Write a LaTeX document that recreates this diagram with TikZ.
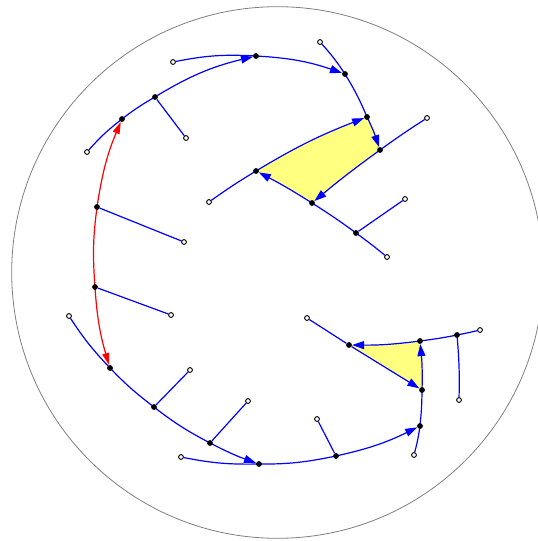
\documentclass[tikz,border=0pt]{standalone}
\usepackage{tikz}
\usetikzlibrary{arrows.meta,backgrounds}
\definecolor{geoblue}{HTML}{0000FF}
\definecolor{geored}{HTML}{FF0000}
\definecolor{faceyellow}{HTML}{FFFF80}
\definecolor{diskgray}{HTML}{808080}
\tikzset{
  vertex/.style={circle, fill=black, inner sep=0pt, minimum size=5.8pt},
  leaf/.style={circle, draw=black, fill=white, line width=0.9pt, inner sep=0pt, minimum size=4.8pt},
  edge/.style={line width=1.2pt, draw=geoblue},
  arr/.style={edge, -{Triangle[length=12pt,width=8pt]}},
  redarr/.style={line width=1.2pt, draw=geored,
    {Triangle[length=12pt,width=7pt]}-{Triangle[length=12pt,width=7pt]}},
  face/.style={fill=faceyellow},
  disk/.style={draw=diskgray, line width=0.8pt}
}

\begin{document}
\begin{tikzpicture}[x=1pt, y=-1pt]
    \useasboundingbox (0,0) rectangle (538,541);
    % vertices
    \node[vertex] (v1) at (122,119) {};
    \node[vertex] (v2) at (155,97) {};
    \node[vertex] (v3) at (256,56) {};
    \node[vertex] (v4) at (345,74) {};
    \node[vertex] (v5) at (367,117) {};
    \node[vertex] (v6) at (380,150) {};
    \node[vertex] (v7) at (312,203) {};
    \node[vertex] (v8) at (256,171) {};
    \node[vertex] (v9) at (356,233) {};
    \node[vertex] (v10) at (97,207) {};
    \node[vertex] (v11) at (95,287) {};
    \node[vertex] (v12) at (110,368) {};
    \node[vertex] (v13) at (154,407) {};
    \node[vertex] (v14) at (210,443) {};
    \node[vertex] (v15) at (259,464) {};
    \node[vertex] (v16) at (336,456) {};
    \node[vertex] (v17) at (420,426) {};
    \node[vertex] (v18) at (422,390) {};
    \node[vertex] (v19) at (420,341) {};
    \node[vertex] (v20) at (457,335) {};
    \node[vertex] (v21) at (349,345) {};
    % open ends
    \node[leaf] (e1) at (87,152) {};
    \node[leaf] (e2) at (186,138) {};
    \node[leaf] (e3) at (173,62) {};
    \node[leaf] (e4) at (320,42) {};
    \node[leaf] (e5) at (427,118) {};
    \node[leaf] (e6) at (209,202) {};
    \node[leaf] (e7) at (405,199) {};
    \node[leaf] (e8) at (387,257) {};
    \node[leaf] (e9) at (184,242) {};
    \node[leaf] (e10) at (171,315) {};
    \node[leaf] (e11) at (69,316) {};
    \node[leaf] (e12) at (190,370) {};
    \node[leaf] (e13) at (248,401) {};
    \node[leaf] (e14) at (181,457) {};
    \node[leaf] (e15) at (317,419) {};
    \node[leaf] (e16) at (414,455) {};
    \node[leaf] (e17) at (480,330) {};
    \node[leaf] (e18) at (459,400) {};
    \node[leaf] (e19) at (307,318) {};
    \begin{pgfonlayer}{background}
      \draw[disk] (277.5,272.5) circle (265.8);
      % shaded faces
      \fill[face] (v8.center) to[bend left=5] (v5.center) to[bend left=3.5] (v6.center)
        to[bend right=2] (v7.center) to[bend right=2.5] (v8.center) -- cycle;
      \fill[face] (v21.center) to[bend right=4] (v19.center) to[bend left=3.5] (v18.center) -- cycle;
      % upper arcs
      \draw[arr] (e1) to[bend left=5] (v1) to[bend left=4] (v2) to[bend left=9] (v3);
      \draw[edge] (v2) -- (e2);
      \draw[arr] (e3) to[bend left=7] (v3) to[bend left=8] (v4);
      \draw[arr] (e4) to[bend left=4] (v4) to[bend left=4.5] (v5) to[bend left=3.5] (v6);
      \draw[arr] (e6) to[bend left=2] (v8) to[bend left=5] (v5);
      \draw[arr] (e5) to[bend right=1.5] (v6) to[bend right=2] (v7);
      \draw[arr] (e8) to[bend right=1.5] (v9) to[bend right=2] (v7) to[bend right=2.5] (v8);
      \draw[edge] (v9) -- (e7);
      % red arc
      \draw[redarr] (v1) to[bend right=7] (v10) to[bend right=6] (v11) to[bend right=6.5] (v12);
      \draw[edge] (v10) -- (e9);
      \draw[edge] (v11) -- (e10);
      % lower arcs
      \draw[arr] (e11) to[bend right=5] (v12) to[bend right=4.5] (v13) to[bend right=5] (v14)
        to[bend right=4] (v15);
      \draw[edge] (v13) -- (e12);
      \draw[edge] (v14) -- (e13);
      \draw[arr] (e14) to[bend right=6] (v15) to[bend right=6] (v16) to[bend right=7] (v17);
      \draw[edge] (v16) -- (e15);
      \draw[arr] (e16) to[bend right=3] (v17) to[bend right=3] (v18) to[bend right=3.5] (v19);
      \draw[arr] (e17) to[bend left=1] (v20) to[bend left=2] (v19) to[bend left=4] (v21);
      \draw[arr] (e19) -- (v21) -- (v18);
      \draw[edge] (v20) to[bend left=3] (e18);
    \end{pgfonlayer}
\end{tikzpicture}
\end{document}
